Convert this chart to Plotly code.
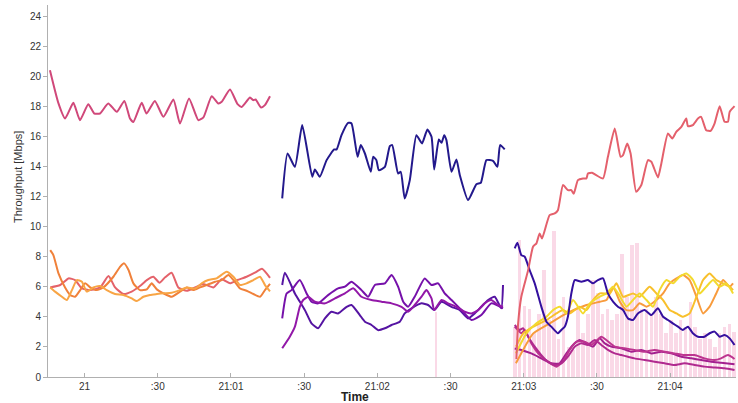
import pandas as pd
import plotly.graph_objects as go

BASE = pd.Timestamp("2021-01-01 21:00:00")

def T(secs):
    return [BASE + pd.Timedelta(seconds=s) for s in secs]

# ---------------- Group 1 (20:59:46 - 21:01:16) ----------------
g1_pink_t = [-14.2, -10.7, -8.0, -4.6, -1.9, 1.5, 4.0, 6.3, 9.7, 13.2, 16.3, 18.6, 20.0, 23.4, 25.4, 28.8, 32.3,
             36.4, 39.1, 42.8, 46.6, 48.7, 52.1, 54.8, 56.2, 59.6, 62.7, 64.4, 67.8, 69.1, 70.1, 72.3, 73.9, 76.0]
g1_pink_v = [20.41, 18.20, 17.20, 18.24, 17.09, 18.15, 17.53, 17.53, 18.20, 17.64, 18.37, 17.20, 16.97, 18.24,
             17.53, 18.37, 17.31, 18.46, 16.86, 18.53, 17.09, 17.27, 18.68, 18.20, 18.31, 19.13, 18.15, 17.97,
             18.60, 18.42, 18.46, 17.93, 18.09, 18.68]

g1_red_t = [-14.1, -10.0, -6.6, -3.9, -1.1, 2.3, 6.4, 9.8, 12.5, 15.9, 19.3, 22.7, 25.5, 28.2, 30.7, 33.0, 35.7,
            38.4, 41.9, 45.3, 48.7, 52.8, 56.2, 59.6, 62.6, 66.4, 69.8, 72.7, 76.0]
g1_red_v = [5.96, 6.12, 6.56, 6.45, 5.89, 5.78, 5.96, 6.72, 5.96, 5.52, 5.68, 6.05, 6.45, 6.67, 6.27, 6.63, 6.94,
            5.96, 5.74, 5.96, 6.18, 5.96, 6.50, 6.23, 6.45, 6.67, 6.94, 7.20, 6.60]

g1_orange_t = [-14.1, -12.8, -10.7, -8.0, -5.9, -3.9, -1.8, 0.2, 2.3, 5.0, 7.7, 11.8, 14.6, 16.2, 18.0, 20.0, 22.7,
               25.5, 27.5, 29.6, 32.3, 35.7, 39.1, 41.9, 44.6, 47.3, 50.0, 53.5, 56.2, 58.9, 61.0, 63.7, 66.4,
               69.2, 71.9, 74.0, 76.0]
g1_orange_v = [8.44, 8.11, 6.89, 5.96, 5.46, 5.34, 5.78, 6.23, 5.96, 5.78, 5.96, 6.67, 7.34, 7.56, 7.12, 6.23, 5.78,
               5.83, 6.23, 5.83, 5.57, 5.34, 5.68, 5.96, 5.78, 5.96, 6.12, 6.34, 6.45, 6.78, 6.45, 5.89, 5.74,
               5.52, 5.34, 5.80, 6.20]

g1_light_t = [-14.1, -12.1, -9.3, -7.3, -5.2, -3.2, -1.1, 0.9, 3.6, 6.4, 9.1, 12.5, 15.9, 19.3, 21.4, 24.1, 26.8,
              29.6, 32.3, 35.7, 39.1, 41.9, 45.3, 48.0, 50.7, 54.1, 58.2, 61.0, 63.7, 66.4, 69.2, 71.9, 74.0, 76.0]
g1_light_v = [5.96, 5.68, 5.34, 5.12, 5.78, 6.45, 6.34, 5.68, 5.96, 6.05, 5.78, 5.52, 5.46, 5.23, 5.05, 5.34, 5.46,
              5.52, 5.57, 5.61, 5.78, 5.96, 5.89, 6.23, 6.45, 6.56, 7.00, 6.67, 6.12, 6.23, 6.45, 6.67, 6.10, 5.70]

# ---------------- Group 2 (21:01:21 - 21:02:52) ----------------
g2_navy_t = [81.0, 83.2, 86.2, 89.2, 93.3, 94.4, 96.4, 99.2, 102.3, 103.3, 105.3, 108.0, 109.4, 111.9, 113.2, 114.9,
             117.3, 118.3, 119.6, 120.6, 123.1, 125.1, 126.1, 128.5, 129.6, 131.2, 133.3, 136.0, 138.3, 140.5,
             142.2, 143.3, 145.2, 146.3, 147.4, 148.3, 150.4, 152.4, 153.8, 157.2, 160.6, 162.4, 164.7, 167.4,
             169.2, 170.3, 172.2]
g2_navy_v = [11.88, 14.87, 13.98, 16.76, 13.32, 13.81, 13.32, 14.43, 15.14, 15.14, 16.09, 16.91, 16.87, 14.65,
             15.43, 14.87, 13.65, 14.65, 14.43, 13.76, 13.98, 15.36, 15.43, 13.54, 13.65, 11.88, 13.10, 16.09,
             15.54, 16.47, 15.98, 13.81, 15.80, 15.58, 16.09, 15.76, 13.65, 14.47, 13.43, 11.77, 12.83, 12.92,
             14.43, 14.38, 13.98, 15.43, 15.14]

g2_violet_t = [81.0, 82.1, 86.2, 90.3, 93.0, 95.7, 98.5, 101.2, 103.9, 107.4, 109.4, 112.8, 114.9, 117.6, 120.3,
               123.1, 125.8, 129.2, 131.2, 134.0, 138.1, 140.8, 143.3, 146.3, 150.4, 153.8, 157.2, 159.9, 162.6,
               165.4, 168.1, 170.8, 171.5]
g2_violet_v = [6.12, 6.94, 5.56, 4.45, 3.57, 3.24, 3.90, 4.34, 4.23, 4.67, 4.79, 4.12, 3.68, 3.46, 3.12, 3.24,
               3.46, 3.68, 4.23, 4.57, 4.90, 4.79, 4.45, 5.01, 4.67, 4.45, 3.90, 4.23, 4.67, 5.12, 5.34, 4.57, 6.12]

g2_purple_t = [81.0, 82.8, 84.8, 88.2, 91.0, 93.0, 95.7, 99.8, 103.9, 106.7, 109.4, 113.5, 116.2, 119.0, 123.1,
               125.8, 128.5, 130.6, 132.6, 135.3, 139.4, 142.2, 144.9, 147.6, 150.4, 154.5, 158.6, 162.6, 166.7,
               171.5]
g2_purple_v = [3.90, 5.56, 5.78, 6.45, 5.56, 5.01, 4.90, 5.45, 5.90, 6.01, 6.34, 5.78, 5.34, 6.12, 6.23, 6.78,
               6.01, 5.01, 4.67, 5.34, 6.56, 6.12, 6.23, 5.56, 5.12, 4.45, 3.79, 4.12, 4.90, 4.57]

g2_mag_t = [81.0, 84.1, 86.2, 88.2, 89.6, 91.7, 94.4, 98.5, 102.6, 106.7, 110.1, 113.5, 117.6, 121.7, 125.8, 129.9,
            132.6, 135.3, 138.1, 140.1, 142.2, 143.3, 146.3, 149.0, 152.4, 155.8, 158.6, 161.3, 164.0, 166.7,
            169.5, 171.5]
g2_mag_v = [1.91, 2.68, 3.35, 4.67, 5.12, 5.34, 5.01, 4.90, 5.23, 5.56, 5.90, 5.34, 5.12, 5.01, 4.90, 4.67, 4.34,
            4.79, 5.34, 5.78, 5.23, 4.45, 5.12, 4.90, 4.67, 4.34, 4.23, 4.45, 4.90, 5.12, 4.79, 4.67]

g2_bar_t = [144.0]
g2_bar_v = [4.3]

# ---------------- Group 3 (21:02:56 - 21:04:26) ----------------
g3_bar_start = 176.3
g3_bar_step = 2.0
g3_bar_v = [3.3, 9.1, 4.7, 4.5, 2.9, 4.2, 7.1, 3.8, 9.7, 2.5, 5.3, 2.0, 1.8, 4.5, 2.9, 4.2, 6.45, 5.6, 4.2, 4.5,
            3.8, 4.2, 8.2, 5.3, 8.8, 8.9, 4.5, 4.5, 4.2, 5.3, 4.2, 2.9, 3.8, 2.9, 3.8, 3.3, 5.0, 3.3, 2.5, 2.9,
            2.5, 2.0, 2.9, 3.3, 3.5, 3.0]

g3_red_t = [177.0, 177.7, 179.0, 181.8, 183.8, 185.2, 186.5, 187.5, 190.6, 192.7, 194.0, 196.1, 198.1, 199.5,
            200.5, 202.2, 204.3, 205.7, 206.3, 208.0, 209.7, 212.5, 214.5, 217.3, 219.7, 220.7, 222.4, 223.8,
            226.1, 228.2, 230.9, 232.3, 235.0, 236.4, 239.1, 240.9, 242.5, 244.6, 246.6, 247.3, 249.3, 251.4,
            252.7, 254.8, 256.6, 258.2, 260.3, 262.3, 263.7, 264.4, 266.4]
g3_red_v = [1.20, 3.57, 5.34, 7.11, 8.67, 8.89, 9.55, 9.22, 10.77, 10.88, 11.10, 12.77, 12.43, 12.43, 12.20, 13.10,
            13.21, 13.21, 13.54, 13.59, 13.43, 13.21, 14.65, 16.53, 14.65, 14.76, 15.54, 14.87, 12.32, 12.77,
            14.43, 14.32, 13.28, 14.21, 16.20, 15.87, 16.31, 16.64, 17.20, 16.69, 16.76, 17.20, 17.31, 16.42,
            16.38, 16.86, 18.02, 16.98, 16.98, 17.64, 18.02]

g3_navy_t = [176.3, 177.4, 179.0, 180.4, 182.4, 184.5, 187.2, 189.3, 191.3, 194.0, 195.4, 196.8, 198.1, 199.5,
             200.9, 203.6, 206.3, 208.4, 210.4, 212.5, 214.5, 216.6, 218.6, 220.7, 222.7, 224.8, 226.8, 229.5,
             232.3, 235.0, 237.1, 239.1, 241.1, 243.2, 245.2, 247.3, 249.3, 251.4, 254.1, 256.2, 258.2, 260.3,
             262.3, 264.4, 266.4]
g3_navy_v = [8.56, 8.93, 8.11, 8.00, 7.12, 6.23, 4.68, 3.68, 3.35, 2.91, 3.13, 3.35, 4.01, 5.56, 6.45, 6.34, 6.45,
             6.23, 6.45, 6.56, 5.56, 5.01, 4.68, 4.46, 3.90, 3.79, 4.23, 4.46, 4.12, 4.57, 4.01, 3.79, 3.57, 3.35,
             3.13, 3.35, 2.91, 2.68, 2.68, 2.91, 3.02, 2.68, 2.79, 2.57, 2.13]

g3_orange_t = [176.8, 183.9, 190.7, 197.5, 205.7, 211.2, 213.9, 216.6, 219.4, 222.1, 224.8, 227.5, 230.3, 234.4,
               237.1, 239.8, 242.6, 245.3, 248.0, 250.8, 253.5, 256.2, 258.9, 261.7, 264.4, 265.8]
g3_orange_v = [0.91, 2.90, 3.57, 4.23, 4.79, 5.01, 5.12, 6.01, 5.01, 4.45, 4.45, 4.90, 4.68, 5.12, 5.56, 6.23,
               6.56, 6.78, 6.45, 5.34, 4.23, 4.68, 5.56, 6.45, 6.01, 6.23]

g3_gold_t = [176.8, 179.8, 183.9, 189.3, 193.4, 196.1, 198.9, 203.0, 205.7, 208.4, 211.2, 215.3, 218.0, 220.7,
             224.8, 227.5, 231.6, 234.4, 237.1, 239.8, 242.6, 245.3, 248.0, 250.8, 253.5, 256.2, 258.9, 261.7,
             264.4, 265.8]
g3_gold_v = [2.02, 2.90, 3.35, 3.79, 4.23, 4.45, 4.23, 4.68, 4.45, 5.12, 5.56, 5.56, 6.23, 5.34, 5.56, 5.34, 6.01,
             5.56, 5.12, 4.45, 4.23, 4.01, 4.23, 5.34, 6.45, 6.89, 6.45, 6.23, 6.01, 5.78]

g3_yellow_t = [176.8, 181.1, 185.2, 189.3, 192.0, 194.8, 197.5, 200.2, 204.3, 207.1, 211.2, 213.9, 216.6, 218.7,
               222.1, 224.8, 227.5, 230.3, 233.0, 235.7, 238.5, 241.2, 243.9, 246.7, 249.4, 252.1, 254.8, 257.6,
               260.3, 263.0, 265.8]
g3_yellow_v = [1.57, 2.90, 3.57, 4.01, 4.45, 4.68, 4.23, 5.12, 4.23, 4.90, 5.34, 5.56, 6.01, 5.56, 4.68, 5.12,
               5.56, 5.12, 4.68, 5.78, 6.45, 6.23, 6.67, 6.89, 6.45, 5.56, 6.01, 6.45, 6.01, 6.23, 5.56]

g3_m1_t = [176.3, 178.3, 179.7, 181.8, 184.5, 187.2, 189.9, 192.7, 195.4, 198.1, 200.9, 203.6, 206.3, 209.1, 211.8,
           214.5, 217.3, 220.0, 222.7, 225.4, 229.5, 233.6, 237.7, 241.8, 245.9, 250.0, 254.1, 258.2, 262.3, 266.4]
g3_m1_v = [3.46, 3.13, 3.24, 2.68, 2.02, 1.46, 1.02, 0.80, 0.91, 1.35, 2.02, 2.24, 2.13, 2.46, 2.13, 1.80, 1.57,
           1.46, 1.35, 1.24, 1.13, 1.02, 0.91, 0.80, 0.91, 0.80, 0.69, 0.64, 0.58, 0.47]

g3_m2_t = [176.3, 179.0, 183.1, 187.2, 191.3, 194.7, 197.5, 200.2, 202.9, 205.7, 208.4, 211.1, 213.2, 215.9, 220.0,
           224.1, 228.2, 232.3, 236.4, 240.5, 244.6, 248.7, 252.8, 256.8, 260.9, 266.4]
g3_m2_v = [1.90, 1.80, 1.57, 1.24, 0.91, 0.91, 1.57, 2.13, 2.46, 2.24, 2.02, 2.57, 2.24, 2.02, 1.91, 1.68, 1.80,
           1.57, 1.68, 1.57, 1.35, 1.24, 1.13, 1.02, 0.95, 0.85]

g3_m3_t = [176.3, 179.0, 180.4, 183.1, 185.9, 189.9, 193.4, 196.1, 198.8, 201.6, 205.0, 207.7, 211.8, 213.8, 217.3,
           221.3, 225.4, 229.5, 233.6, 237.7, 241.8, 245.9, 250.0, 254.1, 258.2, 260.9, 263.7, 266.4]
g3_m3_v = [3.35, 2.91, 3.13, 2.24, 1.57, 1.02, 0.69, 1.02, 1.80, 2.35, 2.35, 2.13, 2.68, 2.46, 2.02, 1.91, 1.80,
           1.68, 1.80, 1.68, 1.57, 1.46, 1.46, 1.24, 1.13, 1.24, 1.46, 1.20]

# ---------------- axis ticks ----------------
x_tick_secs = [0, 30, 60, 90, 120, 150, 180, 210, 240]
x_tick_text = ["21", ":30", "21:01", ":30", "21:02", ":30", "21:03", ":30", "21:04"]
y_tick_vals = list(range(0, 25, 2))

BAR_COLOR = "rgba(242,160,196,0.40)"

fig = go.Figure()

# background bars
fig.add_trace(go.Bar(x=T([g3_bar_start + i * g3_bar_step for i in range(len(g3_bar_v))]), y=g3_bar_v,
                     width=1500, marker=dict(color=BAR_COLOR, line=dict(width=0)), hoverinfo="skip"))
fig.add_trace(go.Bar(x=T(g2_bar_t), y=g2_bar_v, width=900,
                     marker=dict(color=BAR_COLOR, line=dict(width=0)), hoverinfo="skip"))

series = [
    (g1_pink_t, g1_pink_v, "#d0487a"),
    (g1_red_t, g1_red_v, "#e4626a"),
    (g1_orange_t, g1_orange_v, "#f0813a"),
    (g1_light_t, g1_light_v, "#f8a545"),
    (g2_navy_t, g2_navy_v, "#23198c"),
    (g2_violet_t, g2_violet_v, "#5514a2"),
    (g2_purple_t, g2_purple_v, "#7611aa"),
    (g2_mag_t, g2_mag_v, "#9218a8"),
    (g3_m2_t, g3_m2_v, "#a3208f"),
    (g3_m3_t, g3_m3_v, "#bd3590"),
    (g3_m1_t, g3_m1_v, "#b02a8f"),
    (g3_orange_t, g3_orange_v, "#f89b3c"),
    (g3_gold_t, g3_gold_v, "#f8c02c"),
    (g3_yellow_t, g3_yellow_v, "#f3da2e"),
    (g3_navy_t, g3_navy_v, "#34109e"),
    (g3_red_t, g3_red_v, "#e4606c"),
]
for t, v, c in series:
    fig.add_trace(go.Scatter(x=T(t), y=v, mode="lines",
                             line=dict(color=c, width=2, shape="spline", smoothing=0.5),
                             hoverinfo="skip"))

FONT = "Liberation Sans, Arial, sans-serif"
W, H = 738, 403
ML, MR, MT, MB = 48, 2, 5, 26
pw, ph = W - ML - MR, H - MT - MB

fig.update_layout(
    width=W, height=H,
    margin=dict(l=ML, r=MR, t=MT, b=MB),
    paper_bgcolor="white", plot_bgcolor="white",
    showlegend=False, bargap=0,
    font=dict(family=FONT, size=10, color="#333"),
    xaxis=dict(
        range=[BASE + pd.Timedelta(seconds=-15), BASE + pd.Timedelta(seconds=267)],
        tickvals=T(x_tick_secs), ticktext=x_tick_text,
        showgrid=False, zeroline=False, showline=True, linecolor="#b0b0b0", linewidth=1,
        ticks="inside", ticklen=4, tickcolor="#b0b0b0", tickfont=dict(size=10, color="#333"),
    ),
    yaxis=dict(
        range=[0, 24.75], tickvals=y_tick_vals,
        showgrid=False, zeroline=False, showline=True, linecolor="#b0b0b0", linewidth=1,
        ticks="outside", ticklen=4, tickcolor="#b0b0b0", tickfont=dict(size=10, color="#333"),
    ),
    annotations=[
        dict(text="Throughput [Mbps]", x=(18 - ML) / pw, y=(H - MB - 177) / ph, xref="paper", yref="paper",
             showarrow=False, textangle=-90, xanchor="center", yanchor="middle",
             font=dict(size=11, color="#333")),
        dict(text="<b>Time</b>", x=(355 - ML) / pw, y=(H - MB - 397) / ph, xref="paper", yref="paper",
             showarrow=False, xanchor="center", yanchor="middle", font=dict(size=12, color="#222")),
    ],
)

fig.write_html("out.html", config={"displayModeBar": False},
               post_script="document.body.style.margin='0';document.body.style.overflow='hidden';")
